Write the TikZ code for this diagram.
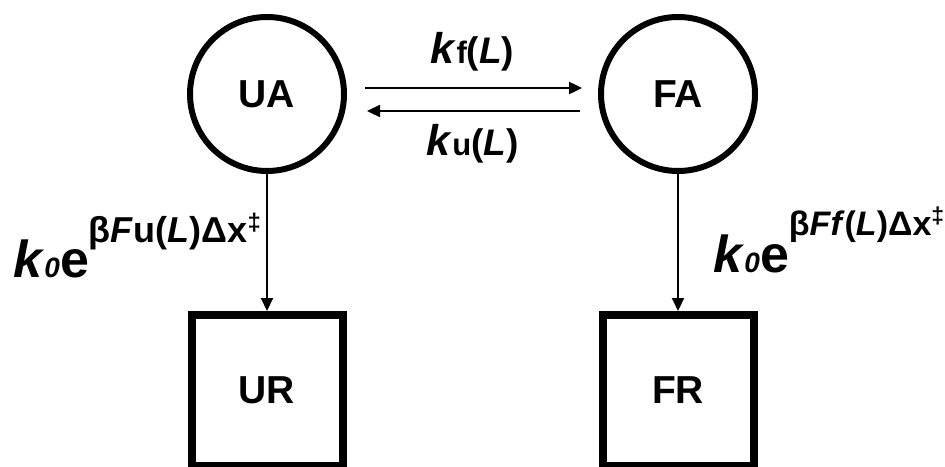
\documentclass[tikz,border=0pt]{standalone}
\usepackage{fontspec}
\setmainfont{Liberation Sans}
\usetikzlibrary{positioning,arrows.meta}
\newcommand{\fs}[1]{\fontsize{#1}{#1}\selectfont}
\tikzset{
  st/.style    ={circle, draw=black, line width=3pt, minimum size=77pt,
                 inner sep=0pt, font=\bfseries\fs{19.5pt}},
  absorb/.style={rectangle, draw=black, line width=4pt, minimum size=75.5pt,
                 inner sep=0pt, font=\bfseries\fs{19.5pt}},
  arr/.style   ={-{Triangle[length=6.5pt,width=6pt]}, line width=1.2pt},
  drop/.style  ={arr, line width=1pt},
  rate/.style  ={font=\bfseries\fs{21.5pt}, inner sep=0pt},
  decay/.style ={font=\bfseries\fs{26pt}, inner sep=0pt, anchor=base west},
}

\begin{document}
\begin{tikzpicture}[x=0.5pt, y=-0.5pt]
  \useasboundingbox (0,0) rectangle (945,466);

  % states
  \node[st] (UA) at (267,94) {UA};
  \node[st, right=125.5pt of UA] (FA) {FA};
  \node[absorb, below=68.5pt of UA] (UR) {UR};
  \node[absorb, below=68.5pt of FA] (FR) {FR};

  % folding / unfolding
  \draw[arr, shorten <=9pt, shorten >=8pt] ([yshift=3pt]UA.east) -- ([yshift=3pt]FA.west)
       node[rate, midway, anchor=base, yshift=12.5pt] (kf)
       {\textit{k}{\fs{15.5pt}f}{\fs{18.5pt}(\textit{L})}};
  \draw[arr, shorten <=9pt, shorten >=10pt] ([yshift=-8.5pt]FA.west) -- ([yshift=-8.5pt]UA.east)
       node[rate, midway, anchor=base, yshift=-22pt] (ku)
       {\textit{k}{\fs{15.5pt}u}{\fs{18.5pt}(\textit{L})}};

  % rupture
  \draw[drop] (UA) -- (UR);
  \draw[drop] (FA) -- (FR);
  \node[decay] (kUR) at (13,277)
       {\textit{k}{\fs{14pt}\textit{0}}e\raisebox{17.5pt}{\fs{18pt}β\textit{F}u(\textit{L})Δx\raisebox{6pt}{\fs{12pt}‡}}};
  \node[decay] (kFR) at (713,272)
       {\textit{k}{\fs{14pt}\textit{0}}e\raisebox{18.5pt}{\fs{17pt}β\textit{Ff}(\textit{L})Δx\raisebox{6pt}{\fs{11.5pt}‡}}};
\end{tikzpicture}
\end{document}
